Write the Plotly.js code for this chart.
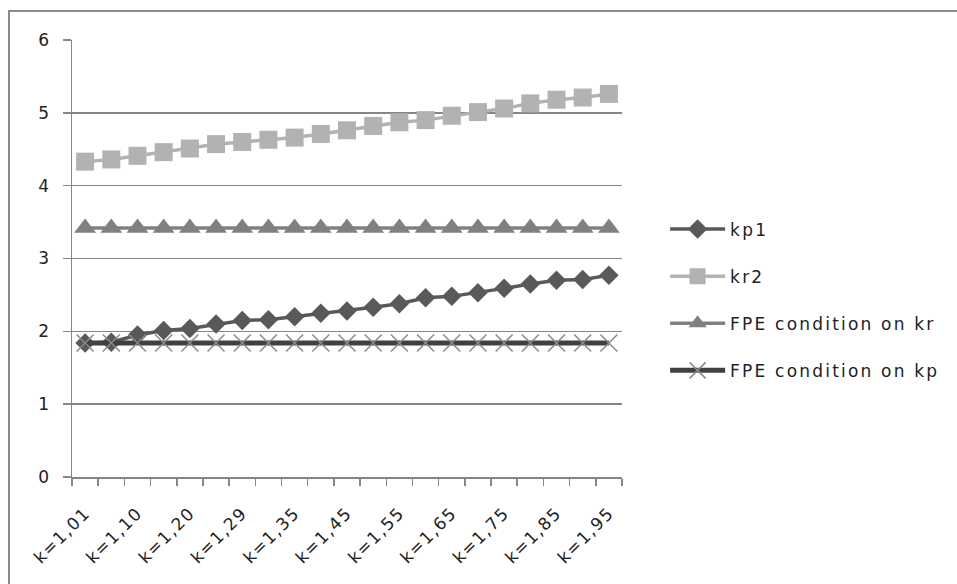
<!DOCTYPE html>
<html>
<head>
<meta charset="utf-8">
<script src="https://cdn.plot.ly/plotly-3.0.1.min.js"></script>
<style>
html,body{margin:0;padding:0;background:#fff;overflow:hidden;}
#chart{width:957px;height:584px;}
#frame{position:absolute;left:8px;top:10px;width:1000px;height:700px;border:2px solid #8a8a8a;pointer-events:none;}
.legendtext{letter-spacing:2.2px;}
#chart .xtick text{letter-spacing:1.5px;}
</style>
</head>
<body>
<div id="chart"></div>
<div id="frame"></div>
<script>
const categories = ["k=1,01","k=1,05","k=1,10","k=1,15","k=1,20","k=1,25","k=1,29","k=1,30","k=1,35","k=1,40","k=1,45","k=1,50","k=1,55","k=1,60","k=1,65","k=1,70","k=1,75","k=1,80","k=1,85","k=1,90","k=1,95"];
const tickLabels = ["k=1,01","","k=1,10","","k=1,20","","k=1,29","","k=1,35","","k=1,45","","k=1,55","","k=1,65","","k=1,75","","k=1,85","","k=1,95"];
const kp1 = [1.84,1.85,1.95,2.01,2.04,2.10,2.15,2.16,2.20,2.25,2.28,2.33,2.38,2.46,2.48,2.53,2.59,2.65,2.70,2.71,2.77];
const kr2 = [4.33,4.36,4.41,4.46,4.51,4.57,4.60,4.63,4.66,4.71,4.76,4.82,4.87,4.90,4.96,5.01,5.06,5.13,5.18,5.21,5.26];
const fpeKr = [3.42,3.42,3.42,3.42,3.42,3.42,3.42,3.42,3.42,3.42,3.42,3.42,3.42,3.42,3.42,3.42,3.42,3.42,3.42,3.42,3.42];
const fpeKp = [1.84,1.84,1.84,1.84,1.84,1.84,1.84,1.84,1.84,1.84,1.84,1.84,1.84,1.84,1.84,1.84,1.84,1.84,1.84,1.84,1.84];
const yTicks = [0,1,2,3,4,5,6];

const font = "DejaVu Sans, Verdana, sans-serif";
const traces = [
  {name:"kp1", x:categories, y:kp1, type:"scatter", mode:"lines+markers", legendgroup:"a",
   line:{color:"#595959", width:3.5}, marker:{symbol:"diamond", size:15, color:"#595959"}},
  {name:"kr2", x:categories, y:kr2, type:"scatter", mode:"lines+markers", legendgroup:"b",
   line:{color:"#b2b2b2", width:3.5}, marker:{symbol:"square", size:18, color:"#b2b2b2"}},
  {name:"FPE condition on kr", x:categories, y:fpeKr, type:"scatter", mode:"lines+markers", legendgroup:"c",
   line:{color:"#808080", width:3.5}, marker:{symbol:"triangle-up", size:19, color:"#808080"}},
  {name:"FPE condition on kp", x:categories, y:fpeKp, type:"scatter", mode:"lines+markers", legendgroup:"d",
   line:{color:"#404040", width:5}, marker:{symbol:"x-thin-open", size:17, color:"#8a8a8a", line:{width:1.5, color:"#8a8a8a"}}}
];

const layout = {
  width:957, height:584,
  margin:{l:72, r:335, t:40, b:107},
  paper_bgcolor:"#fff", plot_bgcolor:"#fff",
  font:{family:font, size:17, color:"#222"},
  showlegend:true,
  legend:{xref:"container", x:0.695, y:0.405, yref:"paper", xanchor:"left", yanchor:"middle", traceorder:"grouped", tracegroupgap:22,
          itemwidth:55, font:{family:font, size:17, color:"#222"}, bgcolor:"rgba(0,0,0,0)"},
  xaxis:{type:"category", categoryorder:"array", categoryarray:categories,
         tickmode:"array", tickvals:categories, ticktext:tickLabels,
         tickson:"boundaries", ticks:"outside", ticklen:7, tickwidth:1.5, tickcolor:"#868686",
         showgrid:false, showline:true, linecolor:"#868686", linewidth:1.5,
         tickangle:-45, tickfont:{family:font, size:17, color:"#222"}, ticklabelstandoff:18,
         range:[-0.5, 20.5], zeroline:false},
  yaxis:{range:[0,6], tickvals:yTicks, ticks:"outside", ticklen:8, tickwidth:1.5, tickcolor:"#868686",
         showgrid:true, gridcolor:"#868686", gridwidth:1.5, showline:true, linecolor:"#868686", linewidth:1.5,
         zeroline:false, ticklabelstandoff:10, tickfont:{family:font, size:17, color:"#222"}}
};

Plotly.newPlot("chart", traces, layout, {displayModeBar:false, staticPlot:true});
</script>
</body>
</html>
